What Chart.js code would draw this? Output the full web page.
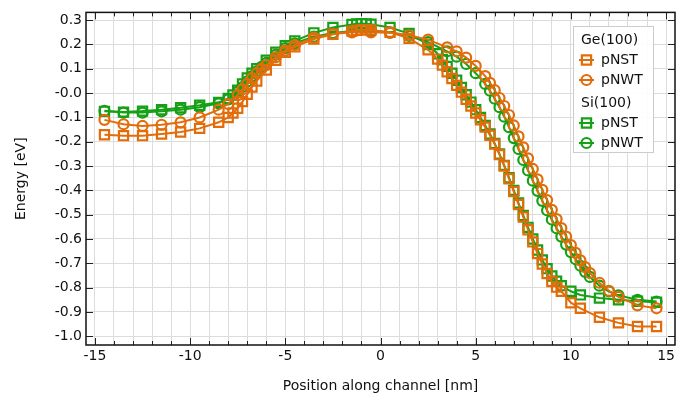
<!DOCTYPE html>
<html>
<head>
<meta charset="utf-8">
<script src="https://cdn.jsdelivr.net/npm/chart.js@4.4.1/dist/chart.umd.min.js"></script>
<style>
  html, body { margin: 0; padding: 0; background: #fff; }
  #wrap { width: 700px; height: 403px; }
</style>
</head>
<body>
<div id="wrap"><canvas id="energy-chart" width="700" height="403"></canvas></div>
<script>
// Positions along the channel [nm] for the square (pNST) and circle (pNWT) curves
let xNST = [-14.5, -13.5, -12.5, -11.5, -10.5, -9.5, -8.5, -8, -7.75, -7.5, -7.25, -7, -6.75, -6.5,
    -6, -5.5, -5, -4.5, -3.5, -2.5, -1.5, -1.25, -1, -0.75, -0.5, 0.5, 1.5, 2.5,
    3, 3.25, 3.5, 3.75, 4, 4.25, 4.5, 4.75, 5, 5.25, 5.5, 5.75, 6, 6.25, 6.5, 6.75,
    7, 7.25, 7.5, 7.75, 8, 8.25, 8.5, 8.75, 9, 9.25, 9.5, 10, 10.5, 11.5, 12.5, 13.5, 14.5]
let xNWT = [-14.5, -13.5, -12.5, -11.5, -10.5, -9.5, -8.5, -8, -7.5, -7.25, -7, -6.75, -6.5, -6.25,
    -6, -5.5, -5, -4.5, -3.5, -2.5, -1.5, -0.5, 0.5, 1.5, 2.5, 3.5, 4, 4.5, 5,
    5.5, 5.75, 6, 6.25, 6.5, 6.75, 7, 7.25, 7.5, 7.75, 8, 8.25, 8.5, 8.75, 9, 9.25,
    9.5, 9.75, 10, 10.25, 10.5, 10.75, 11, 11.5, 12, 12.5, 13.5, 14.5]

// Energy [eV]
let geNST = [-0.171, -0.175, -0.175, -0.168, -0.16, -0.145, -0.12, -0.1, -0.082, -0.062, -0.035, -0.005, 0.025, 0.05,
    0.095, 0.135, 0.168, 0.19, 0.222, 0.242, 0.255, 0.258, 0.26, 0.26, 0.26, 0.25, 0.225, 0.178,
    0.14, 0.115, 0.088, 0.06, 0.032, 0.004, -0.025, -0.053, -0.082, -0.11, -0.14, -0.173, -0.21, -0.253, -0.3, -0.352,
    -0.405, -0.458, -0.51, -0.562, -0.612, -0.66, -0.703, -0.742, -0.775, -0.798, -0.815, -0.862, -0.885, -0.922, -0.945, -0.96, -0.96]
let siNST = [-0.075, -0.078, -0.074, -0.068, -0.06, -0.05, -0.038, -0.022, -0.008, 0.012, 0.038, 0.062, 0.082, 0.1,
    0.135, 0.168, 0.195, 0.215, 0.248, 0.27, 0.282, 0.285, 0.286, 0.285, 0.283, 0.27, 0.245, 0.2,
    0.162, 0.137, 0.11, 0.082, 0.053, 0.023, -0.007, -0.037, -0.068, -0.1, -0.133, -0.168, -0.207, -0.25, -0.297, -0.348,
    -0.4, -0.452, -0.503, -0.552, -0.6, -0.645, -0.686, -0.722, -0.752, -0.774, -0.792, -0.815, -0.83, -0.843, -0.85, -0.856, -0.86]
let geNWT = [-0.11, -0.128, -0.135, -0.13, -0.12, -0.1, -0.068, -0.045, -0.008, 0.015, 0.038, 0.062, 0.082, 0.1,
    0.115, 0.148, 0.175, 0.198, 0.228, 0.243, 0.25, 0.25, 0.248, 0.238, 0.22, 0.188, 0.172, 0.146, 0.112,
    0.07, 0.042, 0.012, -0.02, -0.053, -0.09, -0.133, -0.178, -0.223, -0.268, -0.312, -0.355, -0.398, -0.44, -0.48, -0.518,
    -0.555, -0.59, -0.625, -0.657, -0.688, -0.716, -0.74, -0.78, -0.813, -0.838, -0.873, -0.885]
let siNWT = [-0.073, -0.08, -0.08, -0.075, -0.068, -0.058, -0.042, -0.026, 0.005, 0.025, 0.048, 0.07, 0.09, 0.108,
    0.124, 0.158, 0.185, 0.205, 0.232, 0.247, 0.255, 0.256, 0.25, 0.235, 0.21, 0.172, 0.15, 0.12, 0.082,
    0.038, 0.01, -0.023, -0.058, -0.097, -0.14, -0.185, -0.23, -0.275, -0.318, -0.36, -0.402, -0.443, -0.482, -0.52, -0.556,
    -0.59, -0.623, -0.654, -0.683, -0.71, -0.735, -0.756, -0.792, -0.816, -0.832, -0.85, -0.857]

let orange = '#e36c0a'
let green = '#15a015'
let fontFamily = '"DejaVu Sans", sans-serif'

// turn two arrays into {x, y} points
function toPoints(xs, ys) {
    return xs.map(function(x, i) { return { x: x, y: ys[i] } })
}

function makeSet(label, xs, ys, color, style, radius, order) {
    return {
        label: label,
        data: toPoints(xs, ys),
        order: order,
        showLine: true,
        borderColor: color,
        borderWidth: 2,
        pointStyle: style,
        pointRadius: radius,
        pointHoverRadius: radius,
        pointBorderWidth: 2.2,
        pointBorderColor: color,
        pointBackgroundColor: 'rgba(0,0,0,0)',
        tension: 0
    }
}

// inward tick marks and the black frame, drawn after the data
let frameTicks = {
    id: 'frameTicks',
    afterDraw(chart) {
        let ctx = chart.ctx
        let area = chart.chartArea
        let xs = chart.scales.x
        let ys = chart.scales.y
        ctx.save()
        ctx.strokeStyle = '#222'
        ctx.lineWidth = 1
        for (let v = -15; v <= 15; v++) {
            let px = Math.round(xs.getPixelForValue(v)) + 0.5
            let len = (v % 5 === 0) ? 7 : 4
            ctx.beginPath()
            ctx.moveTo(px, area.bottom)
            ctx.lineTo(px, area.bottom - len)
            ctx.moveTo(px, area.top)
            ctx.lineTo(px, area.top + len)
            ctx.stroke()
        }
        for (let k = -10; k <= 3; k++) {
            let py = Math.round(ys.getPixelForValue(k / 10)) + 0.5
            ctx.beginPath()
            ctx.moveTo(area.left, py)
            ctx.lineTo(area.left + 7, py)
            ctx.moveTo(area.right, py)
            ctx.lineTo(area.right - 7, py)
            ctx.stroke()
        }
        ctx.lineWidth = 1.5
        ctx.strokeStyle = '#111'
        ctx.strokeRect(area.left, area.top, area.right - area.left, area.bottom - area.top)
        ctx.restore()
    }
}

// grouped legend box with material headers
let groupLegend = {
    id: 'groupLegend',
    afterDraw(chart) {
        let ctx = chart.ctx
        let sets = chart.data.datasets
        let rows = [
            { head: 'Ge(100)' },
            { set: sets[0], text: 'pNST' },
            { set: sets[1], text: 'pNWT' },
            { head: 'Si(100)' },
            { set: sets[2], text: 'pNST' },
            { set: sets[3], text: 'pNWT' }
        ]
        let boxX = 573.5, boxY = 26.5, boxW = 80, boxH = 126
        ctx.save()
        ctx.fillStyle = 'rgba(255,255,255,0.9)'
        ctx.fillRect(boxX, boxY, boxW, boxH)
        ctx.strokeStyle = '#cccccc'
        ctx.lineWidth = 1
        ctx.strokeRect(boxX, boxY, boxW, boxH)
        ctx.font = '14px ' + fontFamily
        ctx.textBaseline = 'middle'
        let rowY = [40, 60, 80, 103, 123, 143]
        rows.forEach(function(row, i) {
            let y = rowY[i]
            if (row.head) {
                ctx.fillStyle = '#111'
                ctx.fillText(row.head, 581, y)
                return
            }
            let ds = row.set
            ctx.strokeStyle = ds.borderColor
            ctx.lineWidth = 2
            ctx.beginPath()
            ctx.moveTo(579, y)
            ctx.lineTo(594, y)
            ctx.stroke()
            ctx.fillStyle = 'rgba(0,0,0,0)'
            ctx.lineWidth = ds.pointBorderWidth
            Chart.helpers.drawPoint(ctx, {
                pointStyle: ds.pointStyle,
                radius: ds.pointRadius,
                borderWidth: ds.pointBorderWidth
            }, 586.5, y)
            ctx.fillStyle = '#111'
            ctx.fillText(row.text, 601, y)
        })
        ctx.restore()
    }
}

let ctx = document.querySelector('#energy-chart').getContext('2d')

let energyChart = new Chart(ctx, {
    type: 'scatter',
    data: {
        datasets: [
            makeSet('Ge(100) pNST', xNST, geNST, orange, 'rect', 6.5, 1),
            makeSet('Ge(100) pNWT', xNWT, geNWT, orange, 'circle', 5, 0),
            makeSet('Si(100) pNST', xNST, siNST, green, 'rect', 6.5, 3),
            makeSet('Si(100) pNWT', xNWT, siNWT, green, 'circle', 5, 2)
        ]
    },
    options: {
        responsive: false,
        animation: false,
        devicePixelRatio: 1,
        layout: { padding: { top: 5, right: 25, left: 0, bottom: 0 } },
        plugins: {
            legend: { display: false },
            tooltip: { enabled: false }
        },
        scales: {
            x: {
                type: 'linear',
                min: -15.47,
                max: 15.47,
                afterFit(scale) { scale.height = 58 },
                border: { display: false },
                grid: { color: '#dcdcdc', lineWidth: 1, drawTicks: false },
                ticks: {
                    stepSize: 1,
                    includeBounds: false,
                    autoSkip: false,
                    maxRotation: 0,
                    padding: 3,
                    color: '#111',
                    font: { family: fontFamily, size: 14 },
                    callback: function(v) { return (v % 5 === 0) ? String(v) : '' }
                },
                title: {
                    display: true,
                    text: 'Position along channel [nm]',
                    color: '#111',
                    font: { family: fontFamily, size: 14 },
                    padding: { top: 0, bottom: 8 }
                }
            },
            y: {
                type: 'linear',
                min: -1.036,
                max: 0.332,
                afterFit(scale) { scale.width = 86 },
                border: { display: false },
                grid: { color: '#dcdcdc', lineWidth: 1, drawTicks: false },
                ticks: {
                    stepSize: 0.1,
                    includeBounds: false,
                    padding: 4,
                    color: '#111',
                    font: { family: fontFamily, size: 14 },
                    callback: function(v) {
                        if (Math.abs(v) < 1e-9) return '-0.0'
                        return v.toFixed(1)
                    }
                },
                title: {
                    display: true,
                    text: 'Energy [eV]',
                    color: '#111',
                    font: { family: fontFamily, size: 14 },
                    padding: { top: 13, bottom: 0 }
                }
            }
        }
    },
    plugins: [frameTicks, groupLegend]
})
</script>
</body>
</html>
